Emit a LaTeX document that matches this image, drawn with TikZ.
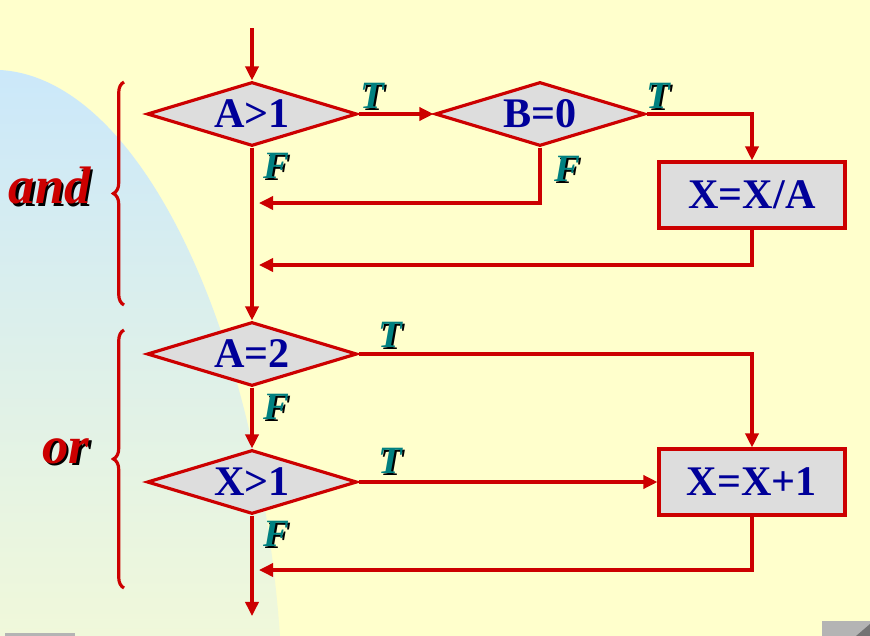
\documentclass[tikz,border=0pt]{standalone}
\usepackage{fontspec}
\setmainfont{Liberation Serif}
\usepackage{tikz}
\usetikzlibrary{arrows.meta,shapes.geometric,decorations.pathreplacing}
\definecolor{paper}{HTML}{FFFFCC}
\definecolor{sky}{HTML}{CBE8FA}
\definecolor{skyfade}{HTML}{F0F8DA}
\definecolor{wire}{HTML}{CC0000}
\definecolor{ink}{HTML}{000099}
\definecolor{tfcol}{HTML}{008080}
\definecolor{stone}{HTML}{DDDDDD}
\definecolor{knob}{HTML}{B4B4B4}
\newcommand{\shadowed}[2]{\makebox[0pt][l]{\kern1.3pt\raisebox{-1.3pt}{\color{black}#2}}{\color{#1}#2}}

\begin{document}
\begin{tikzpicture}[
   x=0.02cm,y=-0.02cm,
   font=\bfseries\fontsize{24}{26}\selectfont,
   test/.style ={diamond,draw=wire,line width=1.8pt,fill=stone,text=ink,inner sep=0pt,minimum width=4.2cm,minimum height=1.28cm,shape aspect=3.3},
   act/.style  ={rectangle,draw=wire,line width=1.8pt,fill=stone,text=ink,minimum width=3.72cm,minimum height=1.32cm},
   tf/.style   ={font=\bfseries\itshape\fontsize{22}{24}\selectfont,inner sep=0pt},
   grp/.style  ={font=\bfseries\itshape\fontsize{30}{32}\selectfont,inner sep=0pt},
   fl/.style   ={-{Triangle[length=8pt,width=7.5pt]},draw=wire,line width=1.8pt},
   br/.style   ={draw=wire,line width=1.8pt,decorate,decoration={brace,amplitude=6pt}}
  ]
  % background
  \fill[paper] (0,0) rectangle (870,636);
  \shade[top color=sky,bottom color=skyfade] (0,70) .. controls (140,78) and (258,330) .. (280,636) -- (0,636) -- cycle;
  \fill[knob] (5,633) rectangle (75,636);
  \fill[knob] (822,621) rectangle (870,636);
  \fill[black!55] (870,624) -- (870,636) -- (856,636) -- cycle;

  % tests and actions
  \node[test] (d1) at (252,114) {A>1};
  \node[test] (d2) at (540,114) {B=0};
  \node[act]  (b1) at (752,195) {X=X/A};
  \node[test] (d3) at (252,354) {A=2};
  \node[test] (d4) at (252,482) {X>1};
  \node[act]  (b2) at (752,482) {X=X+1};

  % entry, exit, joins
  \coordinate (in)  at (252,28);
  \coordinate (out) at (252,616);
  \coordinate (j1)  at (259,203);
  \coordinate (j2)  at (259,265);
  \coordinate (j3)  at (259,570);

  % T / F labels
  \node[tf] (t1) at (372,97)  {\shadowed{tfcol}{T}};
  \node[tf] (t2) at (658,97)  {\shadowed{tfcol}{T}};
  \node[tf] (f1) at (276,167) {\shadowed{tfcol}{F}};
  \node[tf] (f2) at (567,170) {\shadowed{tfcol}{F}};
  \node[tf] (t3) at (390,336) {\shadowed{tfcol}{T}};
  \node[tf] (f3) at (276,408) {\shadowed{tfcol}{F}};
  \node[tf] (t4) at (390,462) {\shadowed{tfcol}{T}};
  \node[tf] (f4) at (276,535) {\shadowed{tfcol}{F}};

  % groups
  \node[grp] (and) at (50,187) {\shadowed{wire}{and}};
  \node[grp] (or)  at (66,452) {\shadowed{wire}{or}};
  \draw[br] (124,305) -- (124,82);
  \draw[br] (124,588) -- (124,330);

  \draw[fl] (in) -- (d1.north);
  \draw[fl] (d1.east) -- (d2.west);
  \draw[fl] (d2.east) -| (b1.north);
  \draw[fl] (d2.south) |- (j1);
  \draw[fl] (b1.south) |- (j2);
  \draw[fl] (d1.south) -- (d3.north);
  \draw[fl] (d3.east) -| (b2.north);
  \draw[fl] (d3.south) -- (d4.north);
  \draw[fl] (d4.east) -- (b2.west);
  \draw[fl] (d4.south) -- (out);
  \draw[fl] (b2.south) |- (j3);
\end{tikzpicture}
\end{document}
